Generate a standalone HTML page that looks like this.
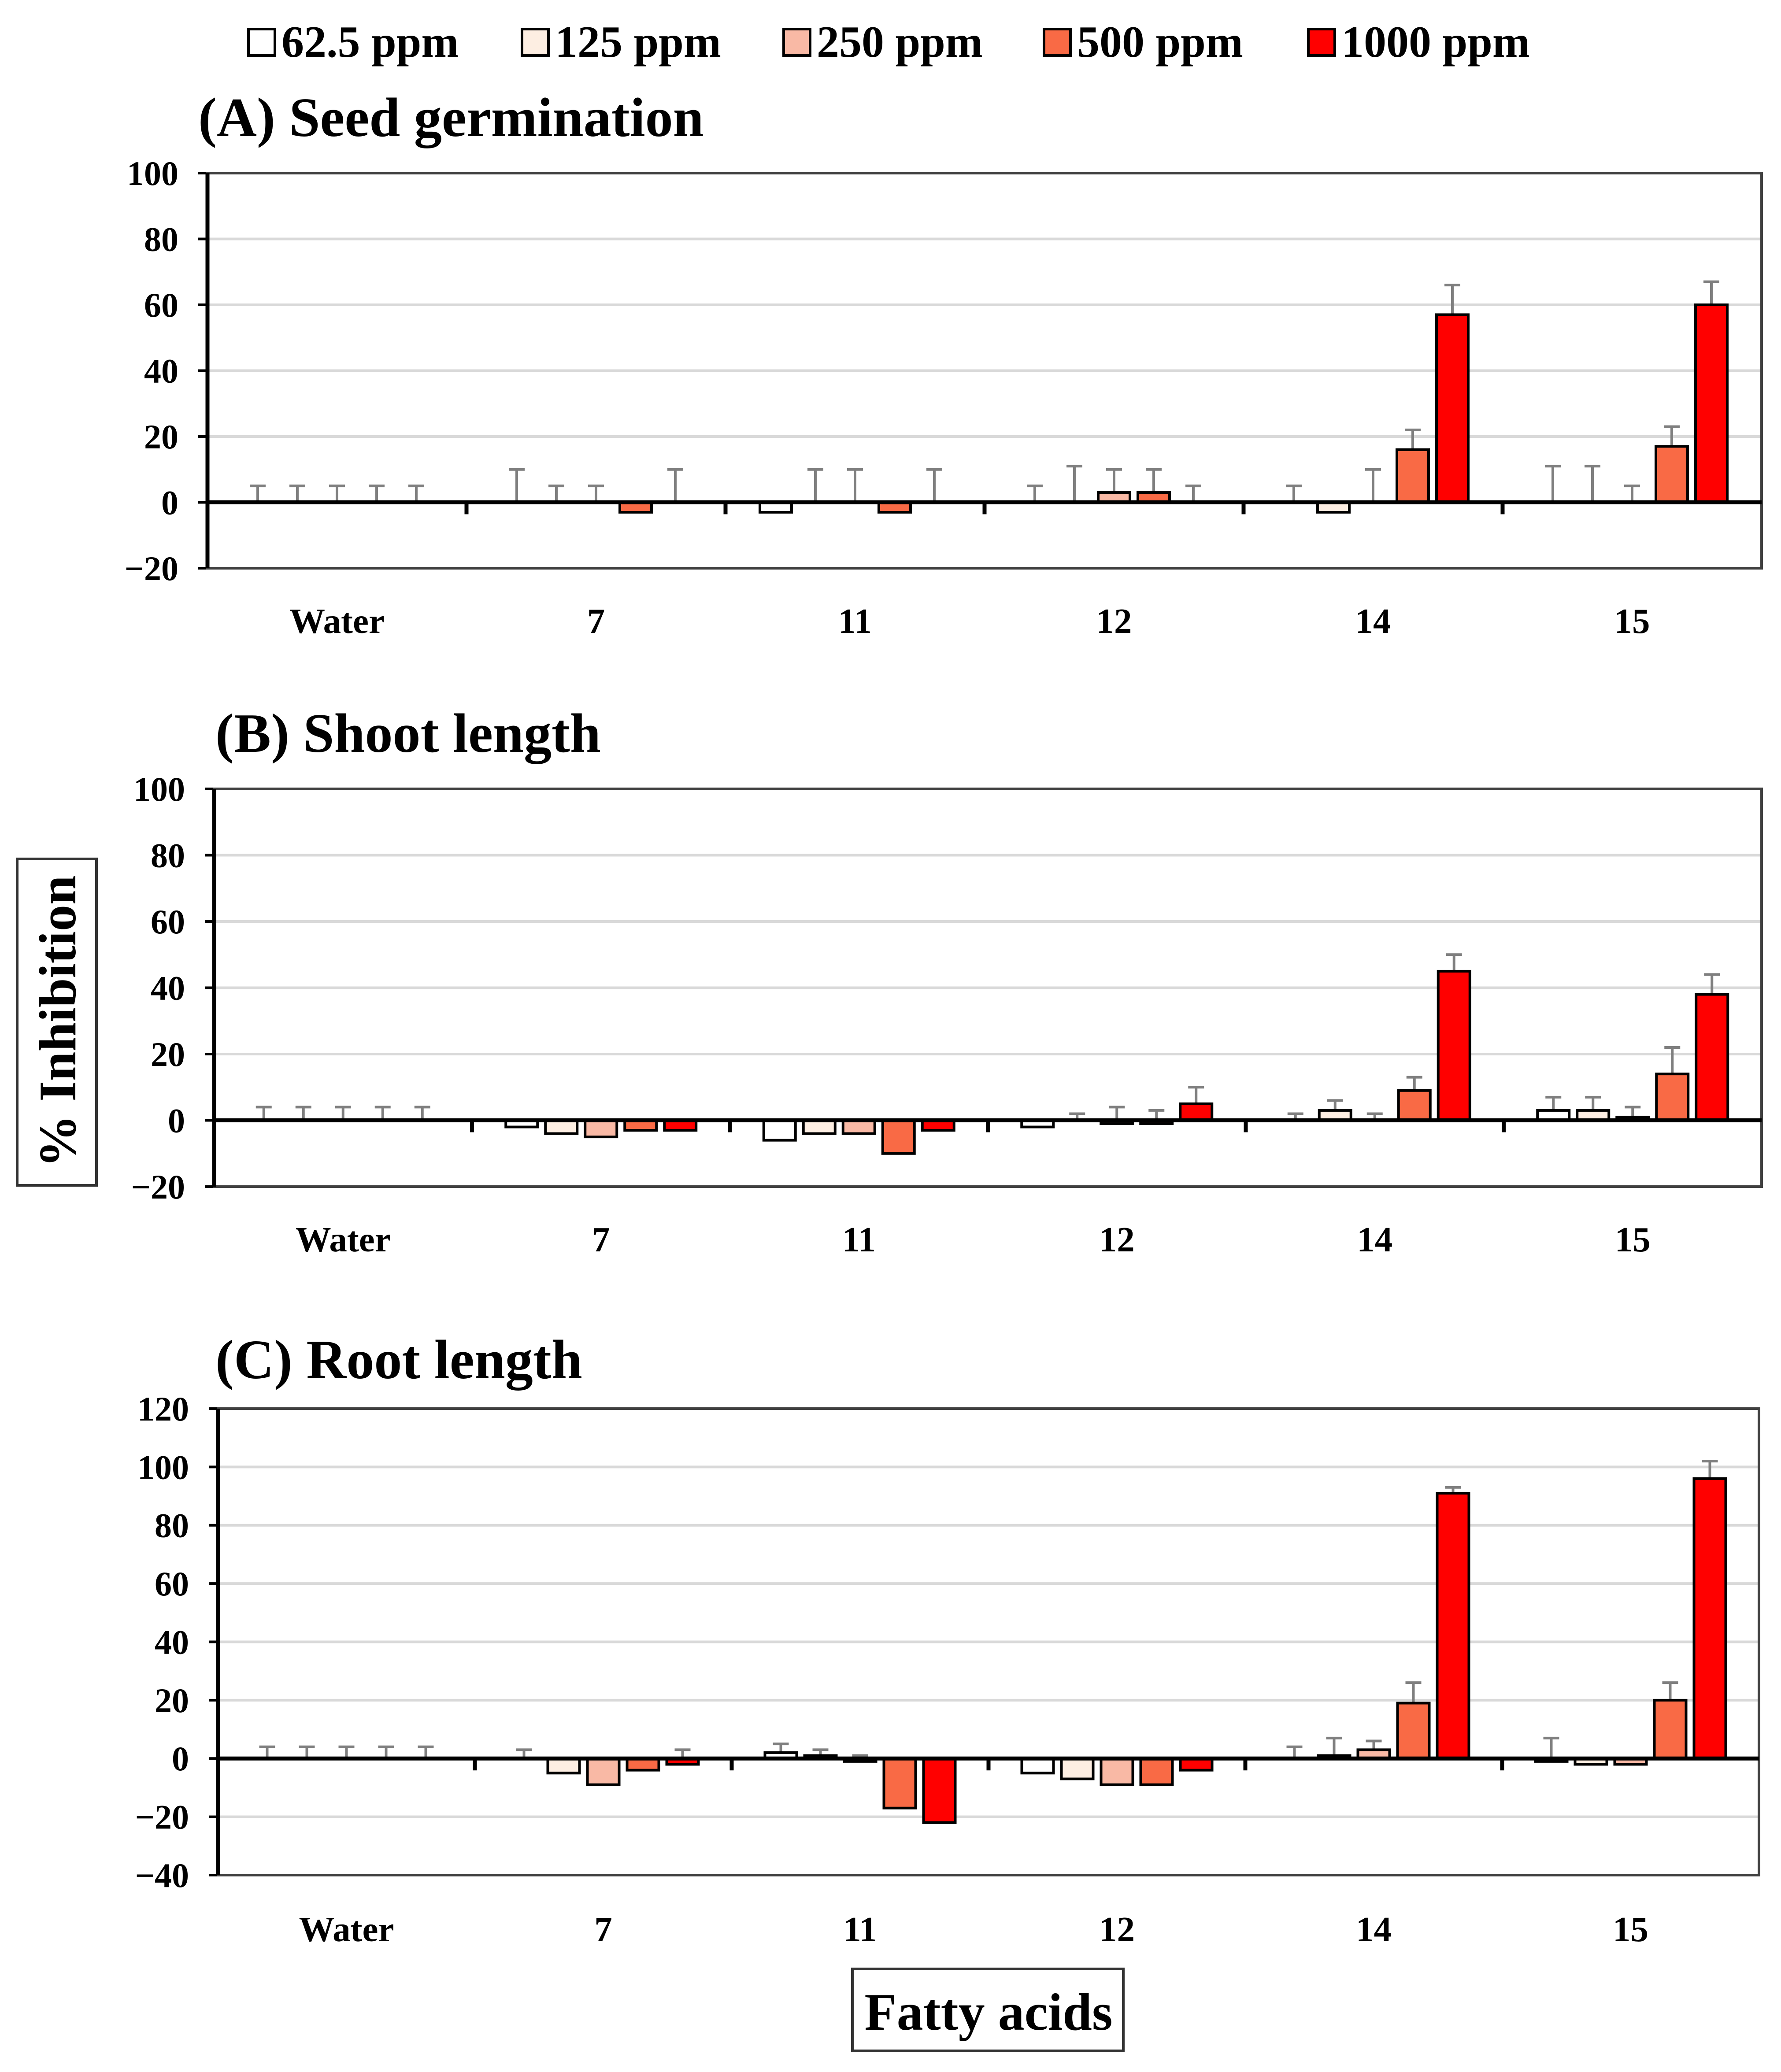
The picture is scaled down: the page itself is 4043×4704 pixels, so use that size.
<!DOCTYPE html>
<html><head><meta charset="utf-8">
<style>
html,body{margin:0;padding:0;background:#fff;}
svg{display:block;font-family:"Liberation Serif",serif;}
</style></head>
<body>
<svg id="chart" xmlns="http://www.w3.org/2000/svg" width="4043" height="4704" viewBox="0 0 1347.67 1568">
<g id="legend"></g>
<g id="panels"></g>
<g>
<rect x="13" y="650" width="60" height="247" fill="#fff" stroke="#333" stroke-width="2"/>
<text transform="translate(57,773) rotate(-90)" text-anchor="middle" font-size="40" font-weight="bold">% Inhibition</text>
</g>
<g>
<rect x="645" y="1490" width="205" height="62" fill="#fff" stroke="#333" stroke-width="2"/>
<text x="748" y="1536" text-anchor="middle" font-size="40" font-weight="bold">Fatty acids</text>
</g>
</svg>
<script>
const categories=["Water","7","11","12","14","15"];
const seriesNames=["62.5 ppm","125 ppm","250 ppm","500 ppm","1000 ppm"];
const seriesColors=["#ffffff","#fdeee2","#f9b9a5","#f96a45","#ff0000"];
const germValues=[[0,0,0,0,0],[0,0,0,-3,0],[-3,0,0,-3,0],[0,0,3,3,0],[0,-3,0,16,57],[0,0,0,17,60]];
const germErrors=[[5,5,5,5,5],[10,5,5,3,10],[3,10,10,3,10],[5,11,7,7,5],[5,3,10,6,9],[11,11,5,6,7]];
const shootValues=[[0,0,0,0,0],[-2,-4,-5,-3,-3],[-6,-4,-4,-10,-3],[-2,0,-1,-1,5],[0,3,0,9,45],[3,3,1,14,38]];
const shootErrors=[[4,4,4,4,4],[1,1,1,1,1],[1,1,1,2,1],[1,2,5,4,5],[2,3,2,4,5],[4,4,3,8,6]];
const rootValues=[[0,0,0,0,0],[0,-5,-9,-4,-2],[2,1,-1,-17,-22],[-5,-7,-9,-9,-4],[0,1,3,19,91],[-1,-2,-2,20,96]];
const rootErrors=[[4,4,4,4,4],[3,2,3,2,5],[3,2,2,8,6],[2,2,3,3,2],[4,6,3,7,2],[8,2,1,6,6]];
const germTicks=[-20,0,20,40,60,80,100];
const shootTicks=[-20,0,20,40,60,80,100];
const rootTicks=[-40,-20,0,20,40,60,80,100,120];

const NS="http://www.w3.org/2000/svg";
function mk(tag,attrs,parent){const e=document.createElementNS(NS,tag);for(const k in attrs)e.setAttribute(k,attrs[k]);parent.appendChild(e);return e;}

const lg=document.getElementById('legend');
const lx=[188,395,593,790,990];
seriesNames.forEach((n,i)=>{
  const g=mk('g',{},lg);
  
  
  mk('rect',{x:lx[i],y:22,width:20,height:20,fill:seriesColors[i],stroke:'#000','stroke-width':2},g);
  const t=mk('text',{x:lx[i]+25,y:43,'font-size':34,'font-weight':'bold'},g);t.textContent=n;
});

const panels=[
 {name:'panel-a-seed-germination',title:'(A) Seed germination',tx:150,ty:103,x0:157,x1:1333,yTop:131,yBot:430,min:-20,max:100,ticks:germTicks,vals:germValues,errs:germErrors,ly:479},
 {name:'panel-b-shoot-length',title:'(B) Shoot length',tx:163,ty:569,x0:162,x1:1333,yTop:597,yBot:898,min:-20,max:100,ticks:shootTicks,vals:shootValues,errs:shootErrors,ly:947},
 {name:'panel-c-root-length',title:'(C) Root length',tx:163,ty:1043,x0:165,x1:1331,yTop:1066,yBot:1419,min:-40,max:120,ticks:rootTicks,vals:rootValues,errs:rootErrors,ly:1469}
];
const pg=document.getElementById('panels');
panels.forEach(p=>{
  const g=mk('g',{},pg);
  
  
  const y=v=>p.yBot-(v-p.min)/(p.max-p.min)*(p.yBot-p.yTop);
  const cw=(p.x1-p.x0)/categories.length;
  const cx=i=>p.x0+cw*(i+0.5);
  const t=mk('text',{x:p.tx,y:p.ty,'font-size':42,'font-weight':'bold'},g);t.textContent=p.title;
  
  
  p.ticks.forEach(v=>{
    if(v!==0&&v!==p.max&&v!==p.min) mk('line',{x1:p.x0,x2:p.x1,y1:y(v),y2:y(v),stroke:'#d9d9d9','stroke-width':2},g);
    const tl=mk('text',{x:p.x0-22,y:y(v)+9,'text-anchor':'end','font-size':26,'font-weight':'bold'},g);
    tl.textContent=v<0?'\u2212'+(-v):String(v);
    
    
    mk('line',{x1:p.x0-7,x2:p.x0,y1:y(v),y2:y(v),stroke:'#000','stroke-width':2},g);
  });
  mk('rect',{x:p.x0,y:p.yTop,width:p.x1-p.x0,height:p.yBot-p.yTop,fill:'none',stroke:'#404040','stroke-width':2},g);
  mk('line',{x1:p.x0,x2:p.x0,y1:p.yTop,y2:p.yBot,stroke:'#000','stroke-width':3},g);
  categories.forEach((c,i)=>{
    p.vals[i].forEach((v,s)=>{
      const bx=cx(i)+(s-2)*30-12;
      const e=p.errs[i][s];
      const ey=y(v+e);
      mk('line',{x1:bx+12,x2:bx+12,y1:y(v),y2:ey,stroke:'#7f7f7f','stroke-width':2},g);
      mk('line',{x1:bx+6,x2:bx+18,y1:ey,y2:ey,stroke:'#7f7f7f','stroke-width':2},g);
      if(v!==0){
        const r=mk('rect',{x:bx,y:Math.min(y(v),y(0)),width:24,height:Math.abs(y(v)-y(0)),fill:seriesColors[s],stroke:'#000','stroke-width':2},g);
        
        
      }
    });
    const cl=mk('text',{x:cx(i),y:p.ly,'text-anchor':'middle','font-size':27,'font-weight':'bold'},g);
    cl.textContent=c;
    
    
    if(i>0) mk('line',{x1:p.x0+cw*i,x2:p.x0+cw*i,y1:y(0),y2:y(0)+9,stroke:'#000','stroke-width':3},g);
  });
  mk('line',{x1:p.x0,x2:p.x1,y1:y(0),y2:y(0),stroke:'#000','stroke-width':3},g);
});
</script>
</body></html>
